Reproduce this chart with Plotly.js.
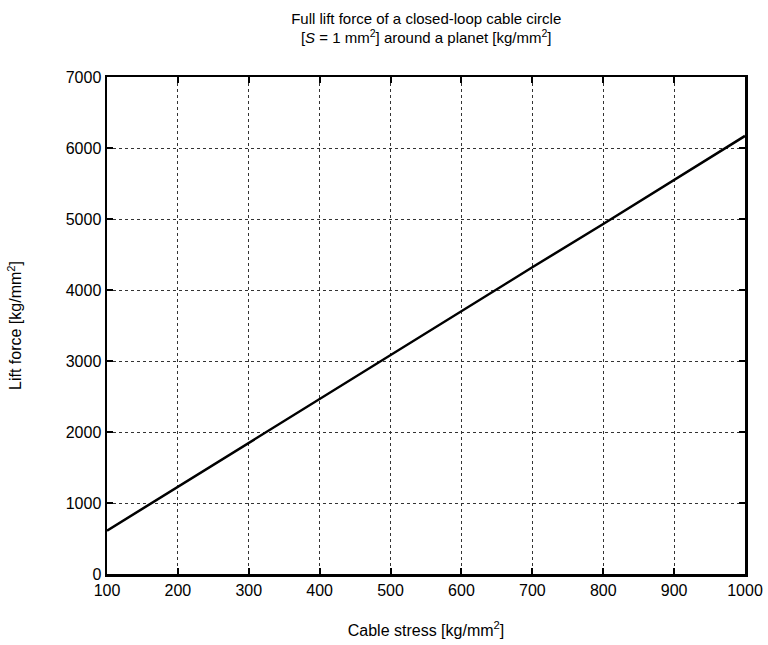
<!DOCTYPE html>
<html>
<head>
<meta charset="utf-8">
<script src="https://cdn.plot.ly/plotly-3.0.1.min.js"></script>
<style>html,body{margin:0;padding:0;background:#fff;}#chart{width:768px;height:645px;}</style>
</head>
<body>
<div id="chart"></div>
<script>
const cableStress = [100, 200, 300, 400, 500, 600, 700, 800, 900, 1000];
const liftForce = [610, 1230, 1850, 2460, 3080, 3700, 4320, 4930, 5550, 6170];
const xTicks = [100, 200, 300, 400, 500, 600, 700, 800, 900, 1000];
const yTicks = [0, 1000, 2000, 3000, 4000, 5000, 6000, 7000];

const fontFam = 'Liberation Sans, Arial, Helvetica, sans-serif';

const trace = {
  x: cableStress,
  y: liftForce,
  type: 'scatter',
  mode: 'lines',
  line: {color: '#000', width: 2.5},
  hoverinfo: 'none',
  showlegend: false
};

const axisCommon = {
  showline: true,
  linecolor: '#000',
  linewidth: 2.5,
  mirror: 'ticks',
  ticks: 'inside',
  ticklen: 6,
  tickwidth: 2,
  tickcolor: '#000',
  showgrid: true,
  gridcolor: '#333',
  griddash: 'dot',
  gridwidth: 1,
  zeroline: false,
  tickfont: {family: fontFam, size: 16, color: '#000'}
};

const layout = {
  width: 768,
  height: 645,
  paper_bgcolor: '#fff',
  plot_bgcolor: '#fff',
  margin: {l: 107, r: 23, t: 77, b: 71},
  font: {family: fontFam, color: '#000'},
  title: {
    text: 'Full lift force of a closed-loop cable circle<br>[<i>S</i> = 1 mm<sup>2</sup>] around a planet [kg/mm<sup>2</sup>]',
    font: {family: fontFam, size: 15, color: '#000'},
    x: 0.555, xanchor: 'center',
    y: 0.963, yanchor: 'middle'
  },
  xaxis: Object.assign({}, axisCommon, {
    range: [100, 1000],
    tickvals: xTicks,
    ticktext: xTicks.map(String),
    title: {text: 'Cable stress [kg/mm<sup>2</sup>]', font: {family: fontFam, size: 16, color: '#000'}, standoff: 27}
  }),
  yaxis: Object.assign({}, axisCommon, {
    range: [0, 7000],
    tickvals: yTicks,
    ticktext: yTicks.map(String),
    title: {text: 'Lift force [kg/mm<sup>2</sup>]', font: {family: fontFam, size: 16, color: '#000'}, standoff: 40}
  })
};

Plotly.newPlot('chart', [trace], layout, {staticPlot: true, displayModeBar: false});
</script>
</body>
</html>
